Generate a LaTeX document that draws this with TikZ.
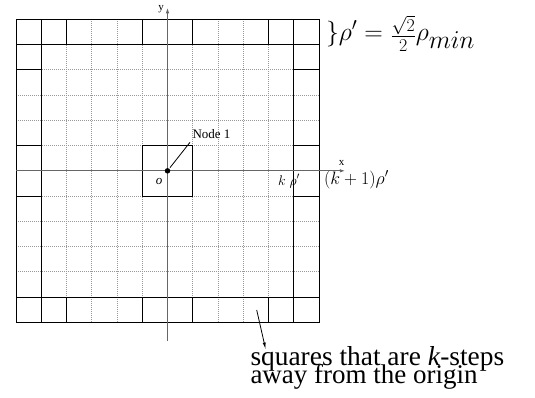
\documentclass[tikz,border=0pt]{standalone}
\usepackage{fix-cm}
\usepackage{fontspec}
\setmainfont{Liberation Serif}
\usetikzlibrary{arrows.meta}
\newcommand\sqfrac{\mathord{\kern1.5pt\vcenter{\offinterlineskip\halign{\hfil##\hfil\cr$\scriptstyle\sqrt{2}$\cr\noalign{\kern1.5pt\hrule height 0.9pt\kern3pt}$\scriptstyle 2$\cr}}\kern1pt}}
\tikzset{
  gridline/.style={line width=0.9pt, black},
  dotline/.style={line width=0.7pt, gray!80, dash pattern=on 0.8pt off 1.2pt},
  axisline/.style={line width=1.3pt, black!60},
  axisarrow/.style={-{Latex[length=6pt,width=3.5pt]}},
  lbl/.style={inner sep=0pt, outer sep=0pt},
}
\begin{document}
\begin{tikzpicture}[x=1pt,y=-1pt]
\useasboundingbox (0,0) rectangle (535,397);
\begin{scope}[shift={(16,19.3)},x=25.25pt,y=-25.25pt]
  \foreach \k in {1,...,11} \draw[dotline] (\k,0) -- (\k,12) (0,\k) -- (12,\k);
  \draw[gridline] (0,0) rectangle (12,12);
  \draw[gridline] (0,1) -- (12,1) (0,11) -- (12,11) (1,0) -- (1,12) (11,0) -- (11,12);
  \foreach \i in {2,5,7,10} \draw[gridline] (\i,0) -- (\i,1) (\i,11) -- (\i,12);
  \foreach \j in {2,5,7} \draw[gridline] (0,\j) -- (1,\j) (11,\j) -- (12,\j);
  \draw[gridline] (5,5) rectangle (7,7);
  \coordinate (O) at (6,6);
  \coordinate (xs) at (0,6);
  \coordinate (xe) at (13.06,6);
  \coordinate (ys) at (6,12.74);
  \coordinate (ye) at (6,-0.475);
\end{scope}
\draw[axisline,axisarrow] (xs) -- (xe);
\draw[axisline,axisarrow] (ys) -- (ye);
\node[lbl,anchor=base,font=\fontsize{11}{11}\selectfont] (xlbl) at (341.7,165) {x};
\node[lbl,anchor=base,font=\fontsize{11}{11}\selectfont] (ylbl) at (161,10) {y};
\node[circle,fill=black,inner sep=0pt,minimum size=5.5pt] (dot) at (O) {};
\node[lbl,anchor=base west,font=\fontsize{13}{13}\selectfont] (n1) at (192.5,138.3) {Node 1};
\coordinate (n1end) at (190,142.3);
\draw[line width=0.8pt,shorten <=4pt] (dot.center) -- (n1end);
\node[lbl,anchor=base,font=\fontsize{13}{13}\selectfont\itshape] (olbl) at (159,184) {o};
\node[lbl,anchor=base,font=\fontsize{14}{14}\selectfont] (klbl) at (289,185) {$k\;\rho'$};
\node[lbl,anchor=base west,font=\fontsize{18}{18}\selectfont] (k1lbl) at (324,184.3) {$(k+1)\rho'$};
\node[lbl,anchor=base west,font=\fontsize{25.7}{26}\selectfont] (rho) at (326,40) {$\}\rho' = \sqfrac\rho_{\textstyle min}$};
\node[lbl,anchor=base west,font=\fontsize{27.4}{27}\selectfont] (sq1) at (250.5,365) {squares that are \textit{k}-steps};
\node[lbl,anchor=base west,font=\fontsize{27}{27}\selectfont] (sq2) at (250.5,383.3) {away from the origin};
\coordinate (arrs) at (256.7,310);
\coordinate (arre) at (265.7,349.5);
\draw[line width=0.8pt,-{Latex[length=7pt,width=3pt]}] (arrs) -- (arre);
\end{tikzpicture}
\end{document}
